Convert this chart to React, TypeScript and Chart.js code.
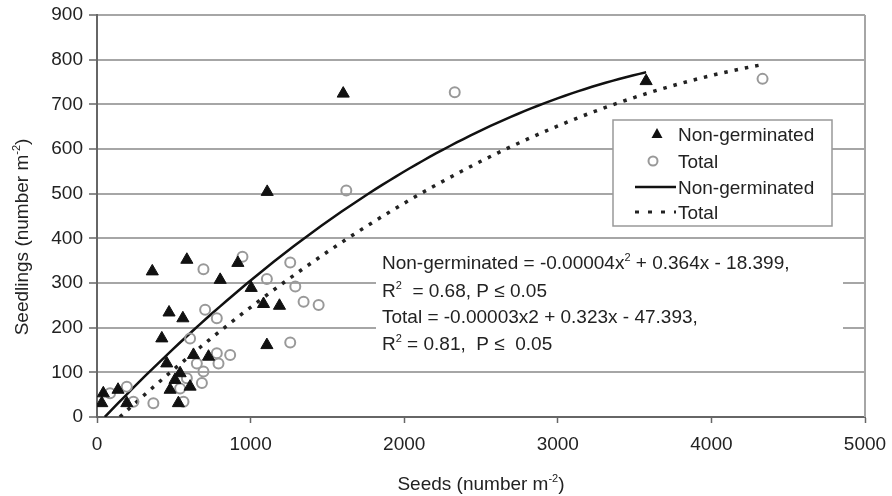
import React, { useEffect, useRef } from 'react';
import { Chart, registerables } from 'chart.js';

Chart.register(...registerables);

// ---------- data ----------
const xTicks = [0, 1000, 2000, 3000, 4000, 5000];
const yTicks = [0, 100, 200, 300, 400, 500, 600, 700, 800, 900];

const nonGermX = [585, 360, 917, 802, 1004, 1084, 1188, 469, 559, 422, 1106, 454, 628, 726, 541, 508, 476, 606, 41, 31, 137, 194, 530, 1603, 1108, 3575];
const nonGermY = [352, 326, 345, 307, 289, 253, 249, 234, 221, 176, 161, 120, 139, 135, 98, 83, 61, 68, 53, 31, 61, 31, 31, 724, 504, 752];

const totalX = [947, 693, 1258, 1106, 1291, 1345, 1443, 704, 780, 1258, 606, 867, 780, 791, 693, 650, 683, 585, 541, 194, 237, 85, 367, 563, 2329, 1623, 4333];
const totalY = [359, 331, 346, 309, 292, 258, 251, 240, 221, 167, 176, 139, 143, 120, 102, 120, 76, 87, 64, 68, 34, 53, 31, 34, 727, 507, 757];

// fitted trendlines (coefficients as printed on the chart: a x^2 + b x + c)
const nonGermCoef = [-0.00004, 0.364, -18.399];
const totalCoef = [-0.00003, 0.323, -47.393];
const nonGermRange = [51, 3575];
const totalRange = [149, 4333];

const legendLabels = ['Non-germinated', 'Total', 'Non-germinated', 'Total'];

type Part = [string, boolean];
const equationLines: Part[][] = [
  [['Non-germinated = -0.00004x', false], ['2', true], [' + 0.364x - 18.399,', false]],
  [['R', false], ['2', true], ['  = 0.68, P ≤ 0.05', false]],
  [['Total = -0.00003x2 + 0.323x - 47.393,', false]],
  [['R', false], ['2', true], [' = 0.81,  P ≤  0.05', false]],
];
const xTitle: Part[] = [['Seeds (number m', false], ['-2', true], [')', false]];
const yTitle: Part[] = [['Seedlings (number m', false], ['-2', true], [')', false]];

// ---------- helpers ----------
const FAMILY = '"Liberation Sans", Arial, Helvetica, sans-serif';
const TEXT = '#222';
const GRID = '#a6a6a6';
const AXIS = '#666';

function curve(coef: number[], range: number[]) {
  const pts: { x: number; y: number }[] = [];
  const n = 80;
  for (let i = 0; i <= n; i++) {
    const x = range[0] + ((range[1] - range[0]) * i) / n;
    pts.push({ x, y: coef[0] * x * x + coef[1] * x + coef[2] });
  }
  return pts;
}

function drawRich(ctx: CanvasRenderingContext2D, parts: Part[], x: number, y: number, size: number, align: 'left' | 'center') {
  const main = `${size}px ${FAMILY}`;
  const sup = `${Math.round(size * 0.6)}px ${FAMILY}`;
  let w = 0;
  for (const [t, s] of parts) {
    ctx.font = s ? sup : main;
    w += ctx.measureText(t).width;
  }
  let cx = align === 'center' ? x - w / 2 : x;
  ctx.textAlign = 'left';
  ctx.textBaseline = 'alphabetic';
  for (const [t, s] of parts) {
    ctx.font = s ? sup : main;
    ctx.fillText(t, cx, s ? y - size * 0.42 : y);
    cx += ctx.measureText(t).width;
  }
}

const overlayPlugin = {
  id: 'overlay',
  beforeDatasetsDraw(chart: any) {
    const { ctx, chartArea: ca } = chart;
    ctx.save();
    // right border of plot area
    ctx.strokeStyle = GRID;
    ctx.lineWidth = 2;
    ctx.beginPath();
    ctx.moveTo(ca.right, ca.top);
    ctx.lineTo(ca.right, ca.bottom);
    ctx.stroke();

    // equation box (white, no border)
    const ex = ca.left + 279;
    const ey = ca.top + 231;
    ctx.fillStyle = '#fff';
    ctx.fillRect(ex, ey, 467, 108);
    ctx.fillStyle = TEXT;
    const rowsY = [269, 297, 323, 350];
    equationLines.forEach((ln, i) => drawRich(ctx, ln, ca.left + 285, rowsY[i], 19, 'left'));

    // legend box
    const lx = ca.left + 516;
    const ly = ca.top + 105;
    ctx.fillStyle = '#fff';
    ctx.fillRect(lx, ly, 219, 106);
    ctx.strokeStyle = '#999';
    ctx.lineWidth = 1.5;
    ctx.strokeRect(lx, ly, 219, 106);

    const rowC = [ly + 14, ly + 41, ly + 67, ly + 92];
    // triangle
    const tx = lx + 44;
    ctx.fillStyle = '#111';
    ctx.beginPath();
    ctx.moveTo(tx, rowC[0] - 6);
    ctx.lineTo(tx + 5.5, rowC[0] + 4);
    ctx.lineTo(tx - 5.5, rowC[0] + 4);
    ctx.closePath();
    ctx.fill();
    // circle
    ctx.strokeStyle = '#999';
    ctx.lineWidth = 2;
    ctx.beginPath();
    ctx.arc(lx + 40, rowC[1], 4.5, 0, Math.PI * 2);
    ctx.stroke();
    // solid line
    ctx.strokeStyle = '#111';
    ctx.lineWidth = 2.5;
    ctx.beginPath();
    ctx.moveTo(lx + 22, rowC[2]);
    ctx.lineTo(lx + 63, rowC[2]);
    ctx.stroke();
    // dotted line
    ctx.strokeStyle = '#222';
    ctx.lineWidth = 3;
    ctx.setLineDash([4, 9]);
    ctx.beginPath();
    ctx.moveTo(lx + 22, rowC[3]);
    ctx.lineTo(lx + 63, rowC[3]);
    ctx.stroke();
    ctx.setLineDash([]);

    ctx.fillStyle = TEXT;
    legendLabels.forEach((lab, i) => drawRich(ctx, [[lab, false]], lx + 65, rowC[i] + 7, 19, 'left'));
    ctx.restore();
  },
  afterDraw(chart: any) {
    const { ctx, chartArea: ca } = chart;
    ctx.save();
    ctx.fillStyle = TEXT;
    drawRich(ctx, xTitle, (ca.left + ca.right) / 2, 490, 19, 'center');
    ctx.translate(28, 237);
    ctx.rotate(-Math.PI / 2);
    drawRich(ctx, yTitle, 0, 0, 19, 'center');
    ctx.restore();
  },
};

export default function App() {
  const ref = useRef<HTMLCanvasElement>(null);
  useEffect(() => {
    if (!ref.current) return;
    const font = { family: FAMILY, size: 19 };
    const chart = new Chart(ref.current, {
      type: 'scatter',
      data: {
        datasets: [
          {
            label: legendLabels[0],
            data: nonGermX.map((x, i) => ({ x, y: nonGermY[i] })),
            pointStyle: 'triangle',
            pointRadius: 7,
            backgroundColor: '#111',
            borderColor: '#111',
            borderWidth: 1,
          },
          {
            label: legendLabels[1],
            data: totalX.map((x, i) => ({ x, y: totalY[i] })),
            pointStyle: 'circle',
            pointRadius: 5,
            backgroundColor: 'rgba(255,255,255,0)',
            borderColor: '#999',
            borderWidth: 2,
          },
          {
            label: legendLabels[2],
            data: curve(nonGermCoef, nonGermRange),
            showLine: true,
            pointRadius: 0,
            borderColor: '#111',
            borderWidth: 2.5,
            tension: 0,
          },
          {
            label: legendLabels[3],
            data: curve(totalCoef, totalRange),
            showLine: true,
            pointRadius: 0,
            borderColor: '#222',
            borderWidth: 3.5,
            borderDash: [3.5, 7],
            tension: 0,
          },
        ],
      } as any,
      options: {
        animation: false,
        responsive: false,
        layout: { padding: { left: 0, right: 27, top: 15, bottom: 0 } },
        plugins: { legend: { display: false }, tooltip: { enabled: false } },
        scales: {
          x: {
            type: 'linear',
            min: xTicks[0],
            max: xTicks[xTicks.length - 1],
            afterBuildTicks: (s: any) => {
              s.ticks = xTicks.map((v) => ({ value: v }));
            },
            afterFit: (s: any) => {
              s.height = 79;
              s.paddingLeft = 0;
              s.paddingRight = 0;
            },
            grid: { drawOnChartArea: false, tickLength: 6, tickColor: AXIS, tickWidth: 1.5 },
            border: { color: AXIS, width: 2 },
            ticks: { font, color: TEXT, padding: 10, maxRotation: 0, callback: (v: any) => String(v) },
          },
          y: {
            type: 'linear',
            min: yTicks[0],
            max: yTicks[yTicks.length - 1],
            afterBuildTicks: (s: any) => {
              s.ticks = yTicks.map((v) => ({ value: v }));
            },
            afterFit: (s: any) => {
              s.width = 97;
              s.paddingTop = 0;
              s.paddingBottom = 0;
            },
            grid: { color: GRID, lineWidth: 2, tickLength: 8, tickColor: AXIS, tickWidth: 1.5 },
            border: { color: AXIS, width: 2 },
            ticks: { font, color: TEXT, padding: 6, callback: (v: any) => String(v) },
          },
        },
      } as any,
      plugins: [overlayPlugin],
    });
    return () => chart.destroy();
  }, []);

  return (
    <div style={{ position: 'fixed', left: 0, top: 0, width: 892, height: 496, background: '#fff' }}>
      <canvas ref={ref} width={892} height={496} style={{ width: 892, height: 496, display: 'block' }} />
    </div>
  );
}
